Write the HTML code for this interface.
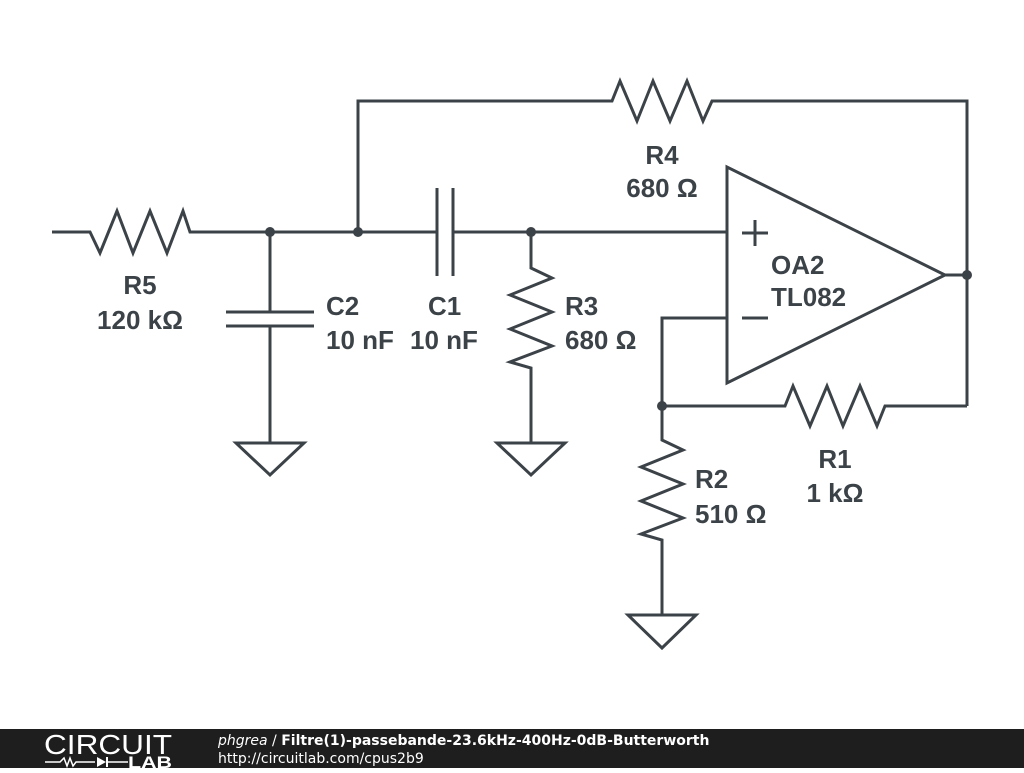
<!DOCTYPE html>
<html><head><style>
body{margin:0;width:1024px;height:768px;background:#fff;overflow:hidden;font-family:"Liberation Sans",sans-serif}
</style></head><body>
<svg width="1024" height="768" viewBox="0 0 1024 768" xmlns="http://www.w3.org/2000/svg">
<g fill="none" stroke="#3c4348" stroke-width="3" stroke-linejoin="miter">
<polyline points="358,232 358,101 612,101 620,81 637,121 653,81 670,121 687,81 703,121 712,101 967,101 967,406"/>
<polyline points="52,232 90,232 100,253 117,211 133,253 150,211 167,253 183,211 190,232 437,232"/>
<line x1="453" y1="232" x2="727" y2="232"/>
<line x1="437" y1="188" x2="437" y2="276"/><line x1="453" y1="188" x2="453" y2="276"/>
<line x1="270" y1="232" x2="270" y2="312"/>
<line x1="226" y1="312" x2="314" y2="312"/><line x1="226" y1="326" x2="314" y2="326"/>
<line x1="270" y1="326" x2="270" y2="443"/>
<polygon points="236,443 304,443 270,475"/>
<polyline points="531,232 531,268 552,278 510,295 552,312 510,329 552,346 510,362 531,368 531,443"/>
<polygon points="497,443 565,443 531,475"/>
<polygon points="727,167 727,383 945,275"/>
<line x1="945" y1="275" x2="967" y2="275"/>
<line x1="742" y1="233" x2="768" y2="233"/><line x1="755" y1="220" x2="755" y2="246"/>
<line x1="742" y1="318" x2="768" y2="318"/>
<polyline points="727,318 662,318 662,406 785,406 793,386 810,426 827,386 843,426 860,386 877,426 885,406 967,406"/>
<polyline points="662,406 662,440 683,450 641,467 683,484 641,501 683,518 641,534 662,540 662,615"/>
<polygon points="628,615 696,615 662,648"/>
</g>
<g fill="#3c4348">
<circle cx="270" cy="232" r="5"/><circle cx="358" cy="232" r="5"/><circle cx="531" cy="232" r="5"/>
<circle cx="967" cy="275" r="5"/><circle cx="662" cy="406" r="5"/>
</g>
<g fill="#3c4348" font-size="26" font-weight="bold" font-family="Liberation Sans,sans-serif">
<text x="662" y="164" text-anchor="middle">R4</text><text x="662" y="197" text-anchor="middle">680 Ω</text>
<text x="140" y="294" text-anchor="middle">R5</text><text x="140" y="329" text-anchor="middle">120 kΩ</text>
<text x="326" y="315">C2</text><text x="326" y="349">10 nF</text>
<text x="428" y="315">C1</text><text x="410" y="349">10 nF</text>
<text x="565" y="315">R3</text><text x="565" y="349">680 Ω</text>
<text x="771" y="274">OA2</text><text x="771" y="306">TL082</text>
<text x="835" y="468" text-anchor="middle">R1</text><text x="835" y="502" text-anchor="middle">1 kΩ</text>
<text x="695" y="488">R2</text><text x="695" y="523">510 Ω</text>
</g>
<rect x="0" y="729" width="1024" height="39" fill="#1e1e1e"/>
<text x="44" y="754" fill="#fff" font-size="28" font-family="Liberation Sans,sans-serif" textLength="128" lengthAdjust="spacingAndGlyphs">CIRCUIT</text>
<polyline points="45,762 60,762 64,758 67,766 70,758 73,766 76,762 95,762" fill="none" stroke="#fff" stroke-width="1.5"/>
<polygon points="97,757 97,767 106,762" fill="#fff"/><line x1="107" y1="757" x2="107" y2="767" stroke="#fff" stroke-width="2"/>
<line x1="107" y1="762" x2="128" y2="762" stroke="#fff" stroke-width="1.5"/>
<text x="128" y="768" fill="#fff" font-size="17" font-weight="bold" font-family="Liberation Sans,sans-serif" textLength="44" lengthAdjust="spacingAndGlyphs">LAB</text>
<text x="218" y="745" fill="#fff" font-size="14" font-family="DejaVu Sans,sans-serif"><tspan font-style="italic">phgrea</tspan> / <tspan font-weight="bold">Filtre(1)-passebande-23.6kHz-400Hz-0dB-Butterworth</tspan></text>
<text x="218" y="763" fill="#fff" font-size="14" font-family="DejaVu Sans,sans-serif">http://circuitlab.com/cpus2b9</text>
</svg>
</body></html>
